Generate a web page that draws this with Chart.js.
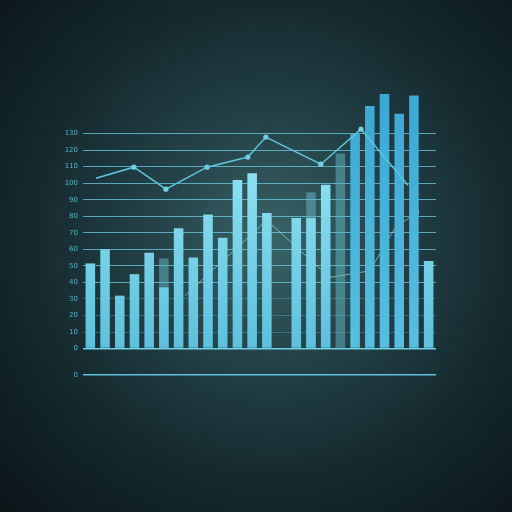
<!DOCTYPE html>
<html>
<head>
<meta charset="utf-8">
<script src="https://cdn.jsdelivr.net/npm/chart.js@4"></script>
<style>
  html, body { margin: 0; padding: 0; }
  body {
    width: 512px; height: 512px; overflow: hidden;
    background: radial-gradient(circle at 53% 47%, #3a6468 0%, #244348 30%, #152a2f 62%, #0b1518 100%);
  }
  canvas { display: block; }
</style>
</head>
<body>
<canvas id="barChart" width="512" height="512"></canvas>
<script>
// values
const categories = ['1','2','3','4','5','6','7','8','9','10','11','12','13','14','15','16','17','18','19','20','21','22','23','24'];
const barValues = [51.5, 60, 32, 45, 58, 37, 72.7, 55, 81, 67, 102, 106, 82, null, 79, 79, 99, null, 130, 146.7, 154, 142, 153, 53];
const ghostValues = [null, null, null, null, null, 54.5, null, null, null, null, null, null, null, null, null, 94.5, null, 118, null, null, null, null, null, null];
const upperLine = [
  { x: 0.38, y: 103 }, { x: 2.96, y: 109.7 }, { x: 5.14, y: 96.4 }, { x: 7.93, y: 109.7 },
  { x: 10.71, y: 115.8 }, { x: 11.93, y: 127.9 }, { x: 15.67, y: 111.5 }, { x: 18.4, y: 132.7 },
  { x: 21.6, y: 98.8 }
];
const lowerLine = [
  { x: 6.43, y: 32 }, { x: 12.0, y: 77.6 }, { x: 16.28, y: 43 }, { x: 19.0, y: 47 },
  { x: 20.7, y: 72.7 }, { x: 22.2, y: 82.4 }
];
const yTickValues = [-16, 0, 10, 20, 30, 40, 50, 60, 70, 80, 90, 100, 110, 120, 130];
const yTickLabels = ['0', '0', '10', '20', '30', '40', '50', '60', '70', '80', '90', '100', '110', '120', '130'];

const ctx = document.getElementById('barChart').getContext('2d');

function barFill(context) {
    const area = context.chart.chartArea;
    if (!area) return '#5cc3de';
    const g = context.chart.ctx.createLinearGradient(0, area.top, 0, area.bottom);
    if (context.dataIndex >= 18 && context.dataIndex <= 22) {
        g.addColorStop(0, '#3aa7d3');
        g.addColorStop(1, '#5ac1e0');
    } else {
        g.addColorStop(0.3, '#8de0f2');
        g.addColorStop(1, '#55bbd9');
    }
    return g;
}

new Chart(ctx, {
    type: 'bar',
    data: {
        labels: categories,
        datasets: [
            {
                type: 'line',
                label: 'upper',
                data: upperLine,
                xAxisID: 'xl',
                borderColor: '#5ec6de',
                borderWidth: 1.5,
                pointBackgroundColor: '#6fd0e6',
                pointBorderWidth: 0,
                pointRadius: c => (c.dataIndex === 0 || c.dataIndex === upperLine.length - 1) ? 0 : 2.6,
                tension: 0,
                order: 0
            },
            {
                label: 'bars',
                data: barValues,
                backgroundColor: barFill,
                grouped: false,
                categoryPercentage: 1,
                barPercentage: 0.65,
                order: 1
            },
            {
                label: 'ghost',
                data: ghostValues,
                backgroundColor: 'rgba(100,185,202,0.5)',
                grouped: false,
                categoryPercentage: 1,
                barPercentage: 0.65,
                order: 2
            },
            {
                type: 'line',
                label: 'lower',
                data: lowerLine,
                xAxisID: 'xl',
                borderColor: 'rgba(180,235,245,0.6)',
                borderWidth: 1,
                pointBackgroundColor: 'rgba(150,220,235,0.85)',
                pointBorderWidth: 0,
                pointRadius: c => c.dataIndex === lowerLine.length - 1 ? 2.2 : 0,
                tension: 0,
                order: 3
            }
        ]
    },
    options: {
        responsive: false,
        animation: false,
        layout: { padding: { left: 55, right: 76, top: 84, bottom: 137 } },
        scales: {
            x: {
                display: false
            },
            xl: {
                type: 'linear',
                display: false,
                offset: false,
                min: -0.5,
                max: 23.5
            },
            y: {
                min: -16,
                max: 160,
                afterBuildTicks: scale => {
                    scale.ticks = yTickValues.map(v => ({ value: v }));
                },
                afterFit: scale => { scale.width = 28; },
                border: { display: false },
                grid: {
                    drawTicks: false,
                    color: c => {
                        const v = c.tick.value;
                        if (v === -16) return '#5ec3da';
                        if (v === 0) return '#6fcfe4';
                        if (v <= 30) return 'rgba(120,200,220,0.3)';
                        return 'rgba(110,205,228,0.75)';
                    },
                    lineWidth: c => (c.tick.value === 0 || c.tick.value === -16) ? 1.4 : 1
                },
                ticks: {
                    padding: 5,
                    color: '#56b3c9',
                    font: { family: 'DejaVu Sans', size: 7 },
                    callback: (value, index) => yTickLabels[index]
                }
            }
        },
        plugins: {
            legend: { display: false },
            tooltip: { enabled: false }
        }
    }
});
</script>
</body>
</html>
